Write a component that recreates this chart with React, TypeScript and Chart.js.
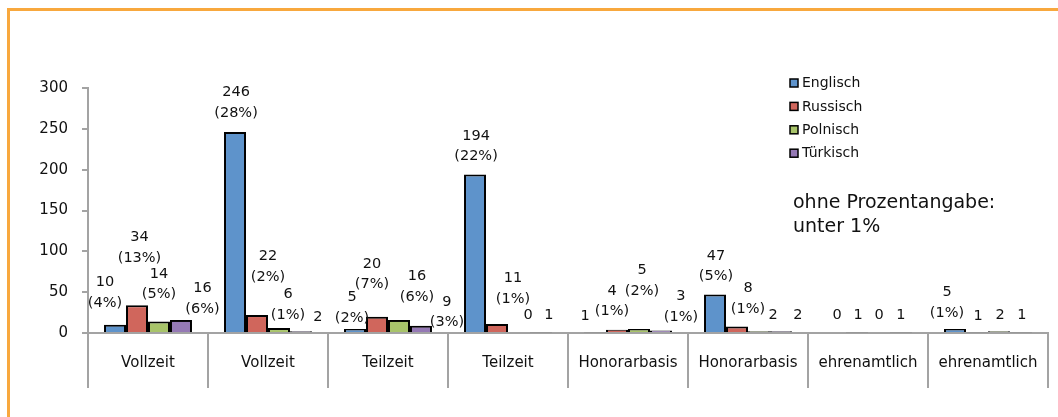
import React, { useEffect, useRef } from "react";
import { Chart, registerables } from "chart.js";

Chart.register(...registerables);

// ---------- data ----------
const categories = [
  "Vollzeit",
  "Vollzeit",
  "Teilzeit",
  "Teilzeit",
  "Honorarbasis",
  "Honorarbasis",
  "ehrenamtlich",
  "ehrenamtlich",
];
const seriesNames = ["Englisch", "Russisch", "Polnisch", "Türkisch"];
const englisch = [10, 246, 5, 194, 1, 47, 0, 5];
const russisch = [34, 22, 20, 11, 4, 8, 1, 1];
const polnisch = [14, 6, 16, 0, 5, 2, 0, 2];
const tuerkisch = [16, 2, 9, 1, 3, 2, 1, 1];
const englischPct = ["4%", "28%", "2%", "22%", "", "5%", "", "1%"];
const russischPct = ["13%", "2%", "7%", "1%", "1%", "1%", "", ""];
const polnischPct = ["5%", "1%", "6%", "", "2%", "", "", ""];
const tuerkischPct = ["6%", "", "3%", "", "1%", "", "", ""];
const yMin = 0;
const yMax = 300;
const yStep = 50;
const noteLines = ["ohne Prozentangabe:", "unter 1%"];

// ---------- styling ----------
const seriesColors = ["#5E93CB", "#D0665C", "#A8C46A", "#9579B5"];
const FONT = "'DejaVu Sans', Verdana, sans-serif";
const TEXT = "#111111";
const AXIS = "#A3A3A3";

// label nudges relative to bar top: [dx, dy of last line centre]
const labelNudges: number[][][] = [
  [[-10, -22], [1, -19], [-3, -11], [1, -18], [-10, -16], [1, -18], [2, -18], [-8, -16]],
  [[2.5, -47], [11, -38], [-5, -32], [16, -25], [-5, -18], [11, -17.5], [1, -17], [1, -16]],
  [[0, -27], [9, -13], [18, -23], [9, -18], [3, -38], [14, -16], [0, -18], [1, -16]],
  [[21.5, -11], [17, -14], [26, -3], [8, -17], [20, -13.5], [17, -16], [0, -17], [1, -17]],
];

const seriesValues = [englisch, russisch, polnisch, tuerkisch];
const seriesPct = [englischPct, russischPct, polnischPct, tuerkischPct];

const dataLabelPlugin = {
  id: "dataLabels",
  afterDatasetsDraw(chart: any) {
    const ctx = chart.ctx;
    ctx.save();
    ctx.font = `14.5px ${FONT}`;
    ctx.fillStyle = TEXT;
    ctx.textAlign = "center";
    ctx.textBaseline = "middle";
    chart.data.datasets.forEach((ds: any, di: number) => {
      const meta = chart.getDatasetMeta(di);
      meta.data.forEach((bar: any, i: number) => {
        const { x, y } = bar.getProps(["x", "y"], true);
        const lines = [String(ds.data[i])];
        const pct = seriesPct[di][i];
        if (pct) lines.push(`(${pct})`);
        const [dx, dy] = labelNudges[di][i];
        const lastY = y + dy;
        lines.forEach((t, k) => {
          ctx.fillText(t, x + dx, lastY - (lines.length - 1 - k) * 20.5);
        });
      });
    });
    ctx.restore();
  },
};

const legendPlugin = {
  id: "customLegend",
  afterDraw(chart: any) {
    const ctx = chart.ctx;
    const ca = chart.chartArea;
    const x0 = ca.left + 702;
    const y0 = ca.top - 5;
    ctx.save();
    ctx.font = `14px ${FONT}`;
    ctx.textAlign = "left";
    ctx.textBaseline = "middle";
    chart.data.datasets.forEach((ds: any, i: number) => {
      const yc = y0 + i * 23.4;
      ctx.fillStyle = ds.backgroundColor;
      ctx.fillRect(x0, yc - 4, 8, 8);
      ctx.strokeStyle = "#000";
      ctx.lineWidth = 1.5;
      ctx.strokeRect(x0, yc - 4, 8, 8);
      ctx.fillStyle = TEXT;
      ctx.fillText(ds.label, x0 + 12, yc + 0.5);
    });
    // note
    ctx.font = `19px ${FONT}`;
    noteLines.forEach((t, k) => {
      ctx.fillText(t, ca.left + 705, ca.top + 115 + k * 24.5);
    });
    ctx.restore();
  },
};

export default function App() {
  const canvasRef = useRef<HTMLCanvasElement | null>(null);

  useEffect(() => {
    const canvas = canvasRef.current;
    if (!canvas) return;
    const chart = new Chart(canvas, {
      type: "bar",
      data: {
        labels: categories,
        datasets: seriesNames.map((name, i) => ({
          label: name,
          data: seriesValues[i],
          backgroundColor: seriesColors[i],
          borderColor: "#000000",
          borderWidth: 2,
          categoryPercentage: 0.733,
          barPercentage: 1.0,
        })),
      },
      options: {
        animation: false,
        responsive: false,
        devicePixelRatio: 1,
        layout: { padding: { top: 88, right: 10, left: 0, bottom: 0 } },
        plugins: {
          legend: { display: false },
          tooltip: { enabled: false },
        },
        scales: {
          x: {
            offset: true,
            grid: {
              offset: true,
              drawOnChartArea: false,
              drawTicks: true,
              tickLength: 55,
              color: AXIS,
              lineWidth: 2,
            },
            border: { display: true, color: AXIS, width: 2 },
            ticks: {
              color: TEXT,
              font: { family: FONT, size: 15 },
              padding: -34,
              maxRotation: 0,
              autoSkip: false,
            },
            afterFit: (s: any) => {
              s.height = 84;
            },
          },
          y: {
            min: yMin,
            max: yMax,
            grid: {
              drawOnChartArea: false,
              drawTicks: true,
              tickLength: 6,
              color: AXIS,
              lineWidth: 2,
            },
            border: { display: true, color: AXIS, width: 2 },
            ticks: {
              stepSize: yStep,
              color: TEXT,
              font: { family: FONT, size: 15 },
              padding: 14,
            },
            afterFit: (s: any) => {
              s.width = 88;
            },
          },
        },
      },
      plugins: [dataLabelPlugin, legendPlugin],
    });
    return () => chart.destroy();
  }, []);

  return (
    <div>
      <canvas
        ref={canvasRef}
        width={1058}
        height={417}
        style={{ position: "fixed", left: 0, top: 0, width: 1058, height: 417 }}
      />
      <div
        style={{
          position: "fixed",
          left: 7,
          top: 8,
          width: 1200,
          height: 600,
          borderTop: "3px solid #F8A83E",
          borderLeft: "3px solid #F8A83E",
          pointerEvents: "none",
        }}
      />
    </div>
  );
}
